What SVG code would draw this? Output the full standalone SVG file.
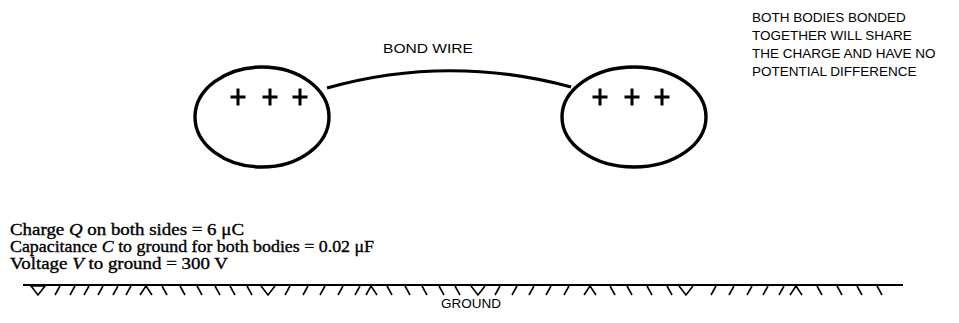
<svg xmlns="http://www.w3.org/2000/svg" width="959" height="323" viewBox="0 0 959 323">
<style>
.body{fill:none;stroke:#000;stroke-width:3.4}
.plus{stroke:#000;stroke-width:3;fill:none}
.wire{fill:none;stroke:#000;stroke-width:3.2}
.sans{font-family:"Liberation Sans",Arial,sans-serif;font-size:13.5px;fill:#000}
.serif{font-family:"Liberation Serif","Times New Roman",serif;font-size:16.5px;fill:#000;stroke:#000;stroke-width:0.35}
.gline{stroke:#000;stroke-width:1.8;fill:none}
.tick{stroke:#000;stroke-width:1.6;fill:none}
</style>
<defs>
<path id="p" d="M-7.5 0H7.5M0 -8.5V8.5"/>
</defs>
<g id="connectors">
<path class="wire" d="M327 88 Q 448 54 571 87"/>
</g>
<g id="body-left">
<ellipse class="body" cx="262" cy="117" rx="67" ry="50"/>
<use href="#p" class="plus" x="238" y="97"/>
<use href="#p" class="plus" x="270" y="97"/>
<use href="#p" class="plus" x="300" y="97"/>
</g>
<g id="body-right">
<ellipse class="body" cx="634" cy="117" rx="72" ry="50"/>
<use href="#p" class="plus" x="600" y="97"/>
<use href="#p" class="plus" x="632" y="97"/>
<use href="#p" class="plus" x="662" y="97"/>
</g>
<g id="label-bond">
<text class="sans" x="383" y="53" textLength="90" lengthAdjust="spacingAndGlyphs">BOND WIRE</text>
</g>
<g id="note">
<text class="sans" x="752" y="22">BOTH BODIES BONDED</text>
<text class="sans" x="752" y="40">TOGETHER WILL SHARE</text>
<text class="sans" x="752" y="58">THE CHARGE AND HAVE NO</text>
<text class="sans" x="752" y="76">POTENTIAL DIFFERENCE</text>
</g>
<g id="values">
<text class="serif" x="10" y="235" textLength="234" lengthAdjust="spacingAndGlyphs">Charge <tspan font-style="italic">Q</tspan> on both sides = 6 μC</text>
<text class="serif" x="10" y="252" textLength="364" lengthAdjust="spacingAndGlyphs">Capacitance <tspan font-style="italic">C</tspan> to ground for both bodies = 0.02 μF</text>
<text class="serif" x="10" y="269" textLength="218" lengthAdjust="spacingAndGlyphs">Voltage <tspan font-style="italic">V</tspan> to ground = 300 V</text>
</g>
<g id="ground">
<path class="gline" d="M23 285H903"/>
<path class="tick" d="M31 286L38 295L45 286Z
M60 286L55 295M75 286L70 295M89 286L84 295M103 286L98 295M118 286L113 295M131 286L126 295
M140 295L146 286L152 295
M162 286L167 295M180 286L185 295M197 286L202 295M215 286L220 295M230 286L235 295M247 286L252 295
M261 286L268 295L275 286
M290 286L285 295M308 286L303 295M325 286L320 295M343 286L338 295M360 286L355 295
M366 295L371 286L377 295
M387 286L392 295M405 286L410 295M422 286L427 295M439 286L444 295M455 286L460 295
M471 286L478 295L485 286
M500 286L495 295M517 286L512 295M534 286L529 295M551 286L546 295M569 286L564 295
M584 295L590 286L596 295
M610 286L615 295M627 286L632 295M647 286L652 295M667 286L672 295
M679 286L686 295L693 286
M716 286L711 295M734 286L729 295M752 286L747 295M768 286L763 295M784 286L779 295
M790 295L796 286L802 295
M817 286L822 295M837 286L842 295M857 286L862 295M877 286L882 295"/>
<text class="sans" x="441" y="308" font-size="12.5">GROUND</text>
</g>
</svg>
